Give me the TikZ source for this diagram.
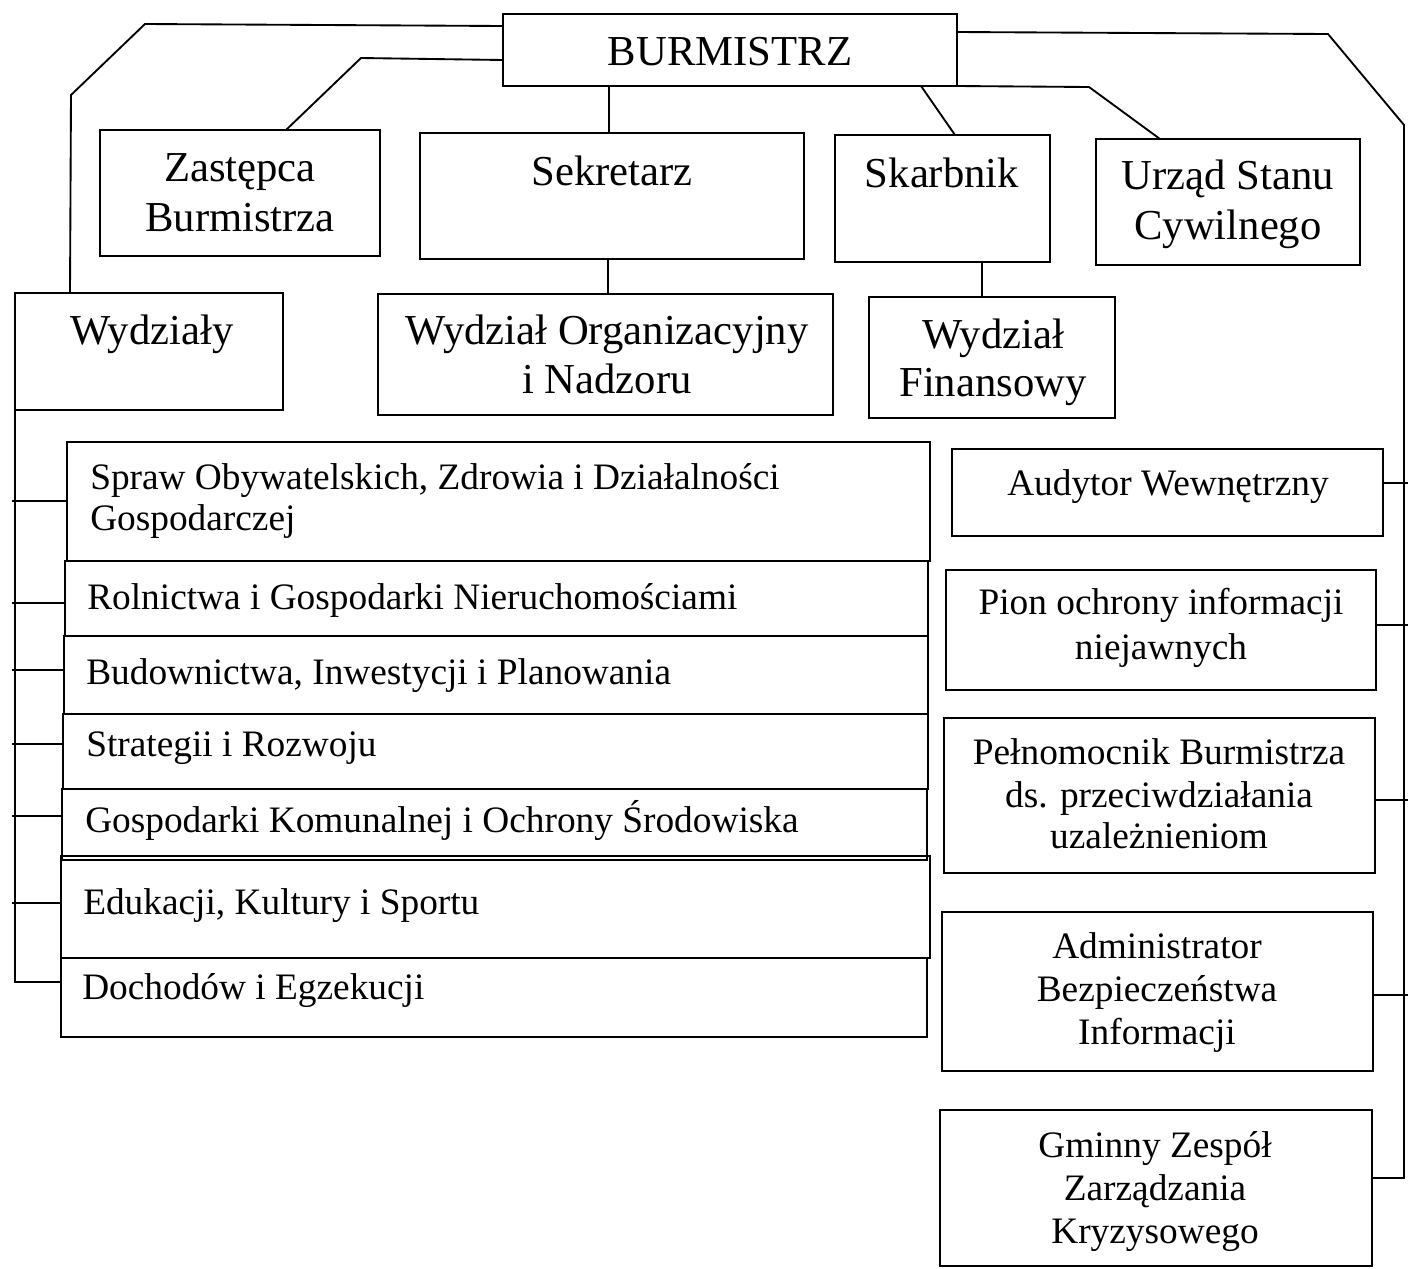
\documentclass[tikz,border=0pt]{standalone}
\usepackage{fontspec}
\setmainfont{Liberation Serif}
\tikzset{
  box/.style={draw, line width=1.4pt, inner sep=0pt, outer sep=0pt, rectangle},
  conn/.style={line width=1.4pt, line join=miter},
  big/.style={font=\fontsize{32}{38}\selectfont, inner sep=0pt, anchor=base},
  small/.style={font=\fontsize{28}{33}\selectfont, inner sep=0pt, anchor=base},
  smallw/.style={font=\fontsize{28}{33}\selectfont, inner sep=0pt, anchor=base west},
  bigw/.style={font=\fontsize{32}{38}\selectfont, inner sep=0pt, anchor=base west},
}
\newcommand\bx[5]{\node[box, anchor=north west, minimum width={(#4-#2)*0.75pt}, minimum height={(#5-#3)*0.75pt}] (#1) at (#2,#3) {};}
\begin{document}
\begin{tikzpicture}[x=0.75pt,y=-0.75pt]
\useasboundingbox (0,0) rectangle (1408,1268);
% boxes
\bx{burm}{503}{14}{957}{86}
\bx{zast}{100}{130}{380}{256}
\bx{sek}{420}{133}{804}{259}
\bx{skarb}{835}{135}{1050}{262}
\bx{usc}{1096}{139}{1360}{265}
\bx{wyd}{15}{293}{283}{410}
\bx{org}{378}{294}{833}{415}
\bx{fin}{869}{297}{1115}{418}
\bx{spraw}{67}{442}{930}{561}
\bx{roln}{65}{561}{928}{636}
\bx{bud}{64}{636}{928}{714}
\bx{strat}{63}{714}{928}{789}
\bx{gosp}{62}{789}{927}{860}
\bx{edu}{61}{856}{930}{958}
\bx{doch}{61}{958}{927}{1037}
\bx{aud}{952}{449}{1383}{536}
\bx{pion}{946}{570}{1376}{690}
\bx{peln}{944}{718}{1375}{873}
\bx{admin}{942}{912}{1373}{1071}
\bx{gzzk}{940}{1110}{1372}{1266}
% texts
\node[big] (t-burm) at (730,65) {BURMISTRZ};
\node[big] (t-zast1) at (240,181) {Zastępca};
\node[big] (t-zast2) at (240,231) {Burmistrza};
\node[big] (t-sek) at (612,185) {Sekretarz};
\node[big] (t-skarb) at (942,187) {Skarbnik};
\node[big] (t-usc1) at (1228,189) {Urząd Stanu};
\node[big] (t-usc2) at (1228,239) {Cywilnego};
\node[bigw] (t-wyd) at (70,344) {Wydziały};
\node[big] (t-org1) at (607,344) {Wydział Organizacyjny};
\node[big] (t-org2) at (607,393) {i Nadzoru};
\node[big] (t-fin1) at (993,348) {Wydział};
\node[big] (t-fin2) at (993,396) {Finansowy};
\node[smallw] (t-spraw1) at (90,489) {Spraw Obywatelskich, Zdrowia i Działalności};
\node[smallw] (t-spraw2) at (90,530) {Gospodarczej};
\node[smallw] (t-roln) at (87,609) {Rolnictwa i Gospodarki Nieruchomościami};
\node[smallw] (t-bud) at (86,684) {Budownictwa, Inwestycji i Planowania};
\node[smallw] (t-strat) at (86,756) {Strategii i Rozwoju};
\node[smallw] (t-gosp) at (85,832) {Gospodarki Komunalnej i Ochrony Środowiska};
\node[smallw] (t-edu) at (83,914) {Edukacji, Kultury i Sportu};
\node[smallw] (t-doch) at (82,999) {Dochodów i Egzekucji};
\node[small] (t-aud) at (1168,495) {Audytor Wewnętrzny};
\node[small] (t-pion1) at (1161,614) {Pion ochrony informacji};
\node[small] (t-pion2) at (1161,659) {niejawnych};
\node[small] (t-peln1) at (1159,764) {Pełnomocnik Burmistrza};
\node[small] (t-peln2) at (1159,807) {ds. przeciwdziałania};
\node[small] (t-peln3) at (1159,848) {uzależnieniom};
\node[small] (t-admin1) at (1157,958) {Administrator};
\node[small] (t-admin2) at (1157,1001) {Bezpieczeństwa};
\node[small] (t-admin3) at (1157,1044) {Informacji};
\node[small] (t-gzzk1) at (1155,1157) {Gminny Zespół};
\node[small] (t-gzzk2) at (1155,1200) {Zarządzania};
\node[small] (t-gzzk3) at (1155,1243) {Kryzysowego};
% connectors from BURMISTRZ
\draw[conn] (burm.west |- 0,26) -- (145,24) -- (71,95) -- (wyd.north -| 70,0);
\draw[conn] (burm.west |- 0,60) -- (361,58) -- (zast.north -| 286,0);
\draw[conn] (burm.south -| 609,0) -- (sek.north -| 609,0);
\draw[conn] (burm.south -| 921,0) -- (skarb.north -| 955,0);
\draw[conn] (burm.south east) -- (1089,87) -- (usc.north -| 1160,0);
\draw[conn] (burm.east |- 0,32) -- (1328,34) -- (1404,125) -- (1404,1178) -- (gzzk.east |- 0,1178);
% second level
\draw[conn] (sek.south -| 608,0) -- (org.north -| 608,0);
\draw[conn] (skarb.south -| 982,0) -- (fin.north -| 982,0);
% left spine
\draw[conn] (wyd.south west) -- (15,982) -- (doch.west |- 0,982);
\draw[conn] (12,501) -- (spraw.west |- 0,501);
\draw[conn] (12,603) -- (roln.west |- 0,603);
\draw[conn] (12,670) -- (bud.west |- 0,670);
\draw[conn] (12,744) -- (strat.west |- 0,744);
\draw[conn] (12,816) -- (gosp.west |- 0,816);
\draw[conn] (12,903) -- (edu.west |- 0,903);
% right ticks
\draw[conn] (aud.east |- 0,483) -- (1408,483);
\draw[conn] (pion.east |- 0,625) -- (1408,625);
\draw[conn] (peln.east |- 0,800) -- (1408,800);
\draw[conn] (admin.east |- 0,995) -- (1408,995);
\end{tikzpicture}
\end{document}
